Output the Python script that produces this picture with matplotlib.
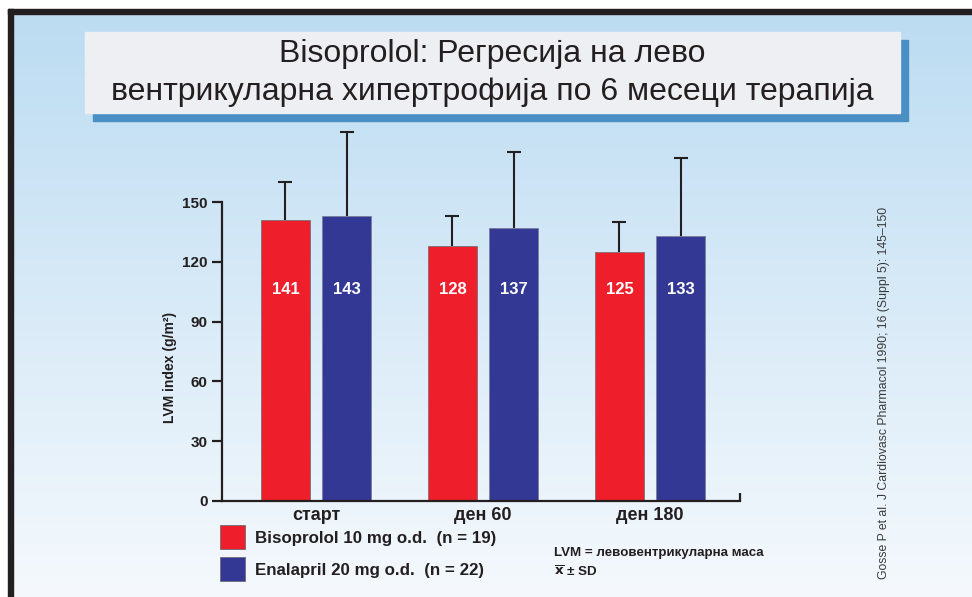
import numpy as np
import matplotlib
matplotlib.use("Agg")
import matplotlib.pyplot as plt
from matplotlib.patches import Rectangle

# data
categories = ["старт", "ден 60", "ден 180"]
bisoprolol = [141, 128, 125]
enalapril = [143, 137, 133]
bisoprolol_sd = [19, 15, 15]
enalapril_sd = [42, 38, 39]
yticks = [0, 30, 60, 90, 120, 150]

series_names = ["Bisoprolol 10 mg o.d.  (n = 19)", "Enalapril 20 mg o.d.  (n = 22)"]
title_lines = ["Bisoprolol: Регресија на лево",
               "вентрикуларна хипертрофија по 6 месеци терапија"]
ylabel = "LVM index (g/m²)"
note_lines = ["LVM = левовентрикуларна маса", r"$\mathbf{\overline{x}}$ ± SD"]
citation = "Gosse P et al. J Cardiovasc Pharmacol 1990; 16 (Suppl 5): 145–150"

RED = "#ee1f2a"
BLUE = "#333895"
INK = "#231f20"

plt.rcParams['font.family'] = ['Liberation Sans', 'DejaVu Sans']

W, H = 972, 597
fig = plt.figure(figsize=(W / 100, H / 100), dpi=100)

# background layer in pixel coords
bg = fig.add_axes([0, 0, 1, 1])
bg.set_xlim(0, W)
bg.set_ylim(H, 0)
bg.axis("off")

top = np.array([188, 220, 242]) / 255
bot = np.array([245, 249, 253]) / 255
t = np.linspace(0, 1, 256)[:, None]
grad = (top[None, :] * (1 - t) + bot[None, :] * t)[:, None, :]
bg.imshow(grad, extent=[13, W, H, 14], aspect="auto", zorder=0)
bg.add_patch(Rectangle((8, 9), W - 8, 5, color=INK, zorder=1))
bg.add_patch(Rectangle((8, 9), 5, H - 9, color=INK, zorder=1))

# title box with shadow
bg.add_patch(Rectangle((93, 40), 815, 81, color="#4a8fc4", zorder=2))
bg.add_patch(Rectangle((85, 32), 815, 81, color="#eeeff2", zorder=3))
bg.text(492, 54, title_lines[0], ha="center", va="center", fontsize=23, color=INK, zorder=4)
bg.text(492, 92, title_lines[1], ha="center", va="center", fontsize=23, color=INK, zorder=4)

# legend squares and text
for i, (name, col) in enumerate(zip(series_names, [RED, BLUE])):
    y0 = 525 + i * 32
    bg.add_patch(Rectangle((220, y0), 25, 24, facecolor=col, edgecolor="#6d6d78", lw=0.6, zorder=2))
    bg.text(255, y0 + 13, name, ha="left", va="center", fontsize=12.2, fontweight="bold", color=INK)

bg.text(554, 553, note_lines[0], ha="left", va="center", fontsize=9.6, fontweight="bold", color=INK)
bg.text(554, 572, note_lines[1], ha="left", va="center", fontsize=9.6, fontweight="bold", color=INK)

bg.text(884, 393, citation, rotation=90, ha="center", va="center", fontsize=8.8, color="#3a3a3a")

# main chart
px_per_unit = 167.0
x_left = (222 - 316) / px_per_unit
x_right = (740 - 316) / px_per_unit
y_per_px = 150 / (501 - 202)
y_top = (501 - 120) * y_per_px

ax = fig.add_axes([222 / W, 1 - 501 / H, 518 / W, 381 / H])
ax.patch.set_alpha(0)
ax.set_xlim(x_left, x_right)
ax.set_ylim(0, y_top)

x = np.arange(len(categories))
off = 0.183
bw = 0.293
zeros = np.zeros(len(categories))
ax.bar(x - off, bisoprolol, bw, color=RED, edgecolor="#7a6f78", lw=0.6, zorder=2)
ax.bar(x + off, enalapril, bw, color=BLUE, edgecolor="#7a7f98", lw=0.6, zorder=2)
for xs, vals, sd in [(x - off, bisoprolol, bisoprolol_sd), (x + off, enalapril, enalapril_sd)]:
    eb = ax.errorbar(xs, vals, yerr=[zeros, sd], fmt="none", ecolor=INK,
                     elinewidth=1.5, capsize=4.7, capthick=1.5, zorder=3)
    # only the upper cap is wanted (mean + SD)
    for cap in eb[1]:
        if np.allclose(cap.get_ydata(), vals):
            cap.set_visible(False)

label_y = 106
for xi, v in zip(x - off, bisoprolol):
    ax.text(xi, label_y, str(v), ha="center", va="center", color="white",
            fontsize=12, fontweight="bold", zorder=4)
for xi, v in zip(x + off, enalapril):
    ax.text(xi, label_y, str(v), ha="center", va="center", color="white",
            fontsize=12, fontweight="bold", zorder=4)

for s in ["top", "right"]:
    ax.spines[s].set_visible(False)
for s in ["left", "bottom"]:
    ax.spines[s].set_linewidth(1.6)
    ax.spines[s].set_color(INK)
ax.spines["left"].set_bounds(0, yticks[-1])

ax.set_yticks(yticks)
ax.set_yticklabels([str(v) for v in yticks], fontsize=11, fontweight="bold", color=INK)
ax.tick_params(axis="y", direction="out", length=7.5, width=1.6, color=INK, pad=3)
ax.set_xticks(x)
ax.set_xticklabels(categories, fontsize=13, fontweight="bold", color=INK)
ax.tick_params(axis="x", length=0, pad=4)

# small upturned tick at the right end of the x axis
ax.plot([x_right, x_right], [0, 8 * y_per_px], color=INK, lw=1.6, clip_on=False, solid_capstyle="butt")

fig.text(170 / W, 1 - 367 / H, ylabel, rotation=90, ha="center", va="center",
         fontsize=10, fontweight="bold", color=INK)

fig.savefig("out.png", dpi=100)
